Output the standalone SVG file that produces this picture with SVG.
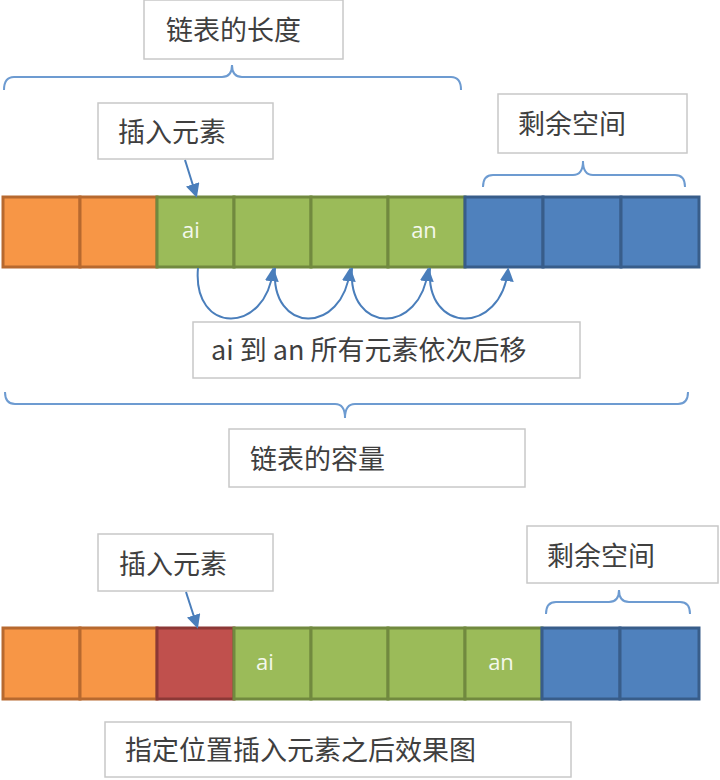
<svg xmlns="http://www.w3.org/2000/svg" width="720" height="780" viewBox="0 0 720 780">
<defs>
<style>
.box{fill:#ffffff;stroke:#c8c8c8;stroke-width:1.5}
.lbl{font-family:"Noto Sans CJK SC","Noto Sans",sans-serif;font-size:27px;fill:#3f3f3f}
.cell-o{fill:#f79646;stroke:#b7692f;stroke-width:3}
.cell-g{fill:#9bbb59;stroke:#71893f;stroke-width:3}
.cell-b{fill:#4f81bd;stroke:#385d8a;stroke-width:3}
.cell-r{fill:#c0504d;stroke:#8c3836;stroke-width:3}
.ct{font-family:"Open Sans","Liberation Sans",sans-serif;font-size:22px;fill:#f4f8ec;text-anchor:middle}
.brace{fill:none;stroke:#6d9bd1;stroke-width:2}
.arr{fill:none;stroke:#4a7ebb;stroke-width:2;marker-end:url(#ah)}
</style>
<marker id="ah" viewBox="0 0 10 10" refX="8" refY="5" markerWidth="7" markerHeight="7" orient="auto" markerUnits="strokeWidth">
<path d="M0,0 L10,5 L0,10 z" fill="#4a7ebb"/>
</marker>
</defs>
<rect width="720" height="780" fill="#ffffff"/>

<g id="label-length">
<rect class="box" x="144" y="0" width="199" height="59"/>
<text class="lbl" x="166" y="40">链表的长度</text>
</g>
<g id="brace-length"><path class="brace" d="M4,90 Q4,77 14,77 L222,77 Q232,77 232,65 Q232,77 242,77 L451,77 Q461,77 461,90"/></g>

<g id="label-insert-top">
<rect class="box" x="98" y="103" width="175" height="56"/>
<text class="lbl" x="118" y="142">插入元素</text>
</g>

<g id="label-free-top">
<rect class="box" x="498" y="94" width="189" height="59"/>
<text class="lbl" x="518" y="134">剩余空间</text>
</g>
<g id="brace-free-top"><path class="brace" d="M483,187 Q483,175 493,175 L573,175 Q583,175 583,161 Q583,175 593,175 L675,175 Q685,175 685,187"/></g>

<g id="bar-top">
<rect class="cell-o" x="3" y="197" width="77" height="70"/>
<rect class="cell-o" x="80" y="197" width="77" height="70"/>
<rect class="cell-g" x="157" y="197" width="77" height="70"/>
<rect class="cell-g" x="234" y="197" width="77" height="70"/>
<rect class="cell-g" x="311" y="197" width="77" height="70"/>
<rect class="cell-g" x="388" y="197" width="77" height="70"/>
<rect class="cell-b" x="465" y="197" width="78" height="70"/>
<rect class="cell-b" x="543" y="197" width="78" height="70"/>
<rect class="cell-b" x="621" y="197" width="78" height="70"/>
<text class="ct" x="191" y="238">ai</text>
<text class="ct" x="424" y="238">an</text>
</g>

<g id="label-shift">
<rect class="box" x="193" y="322" width="387" height="56"/>
<text class="lbl" x="211" y="360">ai 到 an 所有元素依次后移</text>
</g>

<g id="brace-capacity"><path class="brace" d="M5,392 Q5,404 15,404 L335,404 Q345,404 345,418 Q345,404 355,404 L678,404 Q688,404 688,392"/></g>

<g id="label-capacity">
<rect class="box" x="229" y="429" width="296" height="58"/>
<text class="lbl" x="250" y="469">链表的容量</text>
</g>

<g id="label-insert-bottom">
<rect class="box" x="98" y="534" width="175" height="57"/>
<text class="lbl" x="119" y="574">插入元素</text>
</g>

<g id="label-free-bottom">
<rect class="box" x="527" y="526" width="191" height="57"/>
<text class="lbl" x="547" y="566">剩余空间</text>
</g>
<g id="brace-free-bottom"><path class="brace" d="M546,614 Q546,602 556,602 L609,602 Q619,602 619,590 Q619,602 629,602 L680,602 Q690,602 690,614"/></g>

<g id="bar-bottom">
<rect class="cell-o" x="3" y="628" width="77" height="71"/>
<rect class="cell-o" x="80" y="628" width="77" height="71"/>
<rect class="cell-r" x="157" y="628" width="77" height="71"/>
<rect class="cell-g" x="234" y="628" width="77" height="71"/>
<rect class="cell-g" x="311" y="628" width="77" height="71"/>
<rect class="cell-g" x="388" y="628" width="77" height="71"/>
<rect class="cell-g" x="465" y="628" width="77" height="71"/>
<rect class="cell-b" x="542" y="628" width="78" height="71"/>
<rect class="cell-b" x="620" y="628" width="79" height="71"/>
<text class="ct" x="265" y="670">ai</text>
<text class="ct" x="501" y="670">an</text>
</g>

<g id="label-result">
<rect class="box" x="105" y="722" width="466" height="55"/>
<text class="lbl" x="125" y="760">指定位置插入元素之后效果图</text>
</g>

<g id="connectors">
<path class="arr" d="M185,160 L196,195"/>
<path class="arr" d="M198,268 C192,335 266,335 273,270"/>
<path class="arr" d="M275,268 C270,335 343,335 350,270"/>
<path class="arr" d="M352,268 C347,335 421,335 428,270"/>
<path class="arr" d="M430,268 C425,335 501,335 508,270"/>
<path class="arr" d="M186,592 L197,626"/>
</g>
</svg>
